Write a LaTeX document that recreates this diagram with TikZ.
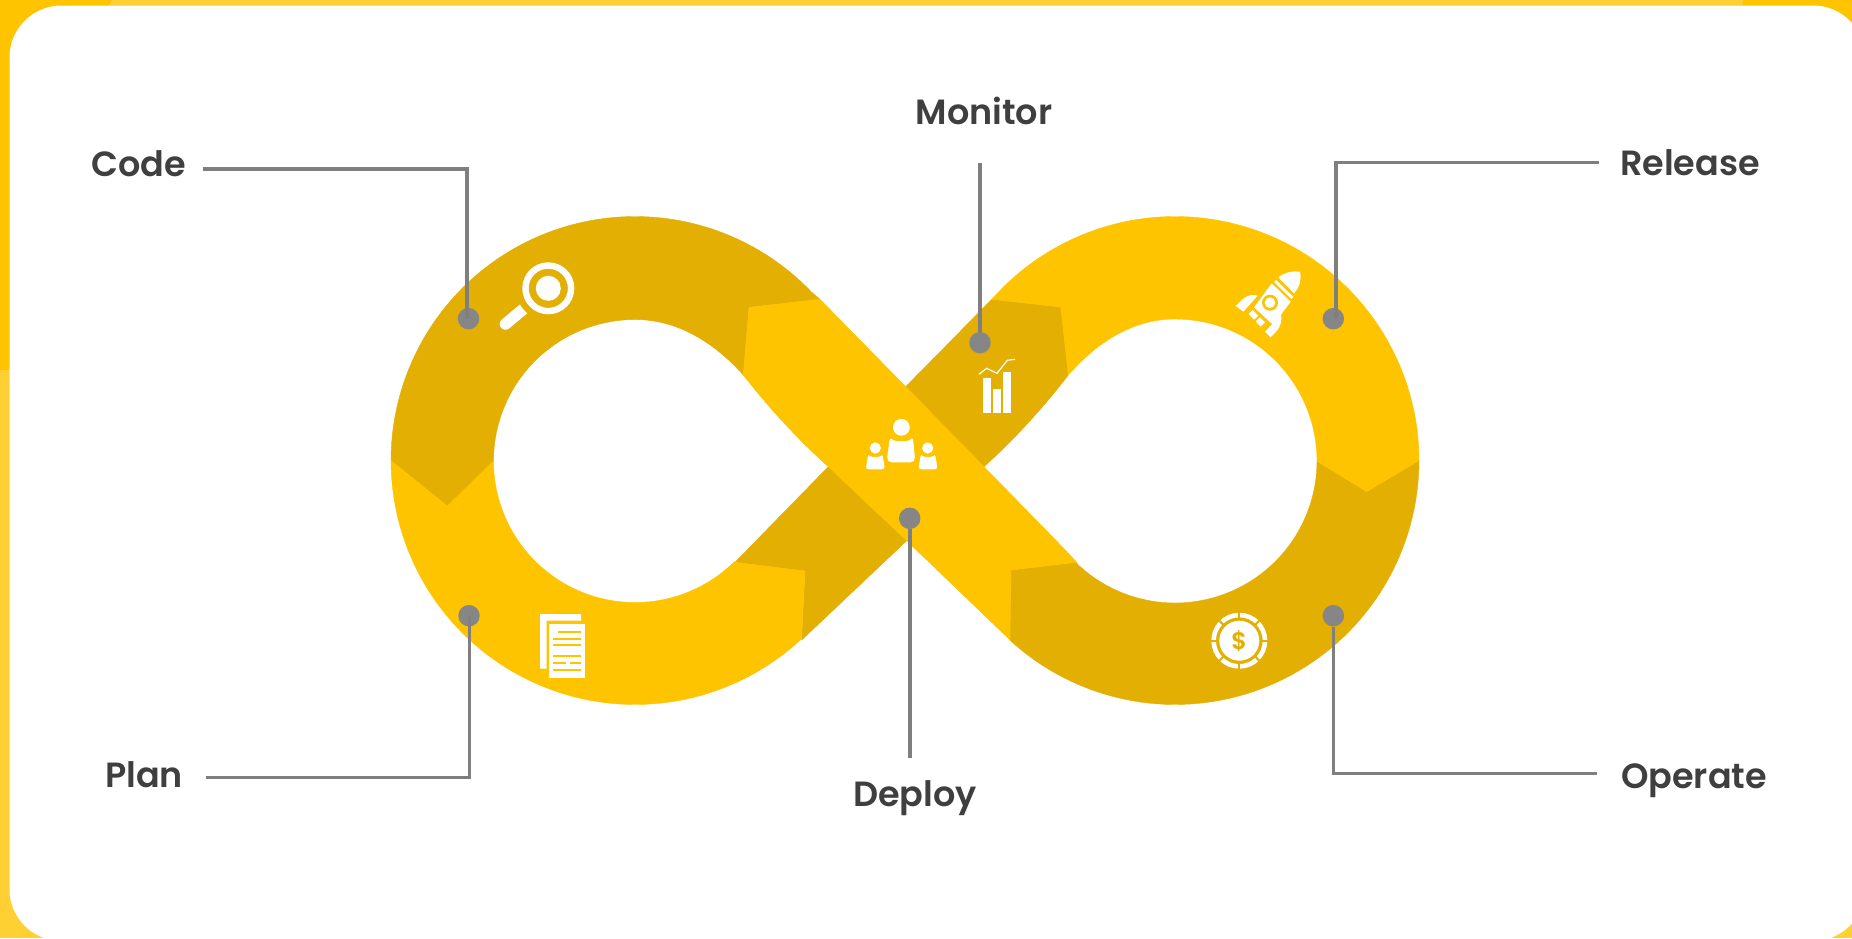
\documentclass[tikz,border=0pt]{standalone}
\usepackage{fontspec}
\setmainfont{Poppins}[UprightFont=* SemiBold,BoldFont=* Bold]
\definecolor{yel}{HTML}{FFC400}
\definecolor{lite}{HTML}{FFD033}
\definecolor{drk}{HTML}{E3AF03}
\definecolor{conn}{HTML}{7F7F7F}
\definecolor{dotc}{HTML}{868686}
\definecolor{txt}{HTML}{3F3F3F}
\tikzset{
  yseg/.style={fill=yel,draw=yel,line width=.4pt,line join=round},
  dseg/.style={fill=drk,draw=drk,line width=.4pt,line join=round},
  connector/.style={draw=conn,line width=3.6pt,line join=miter},
  dotnode/.style={circle,fill=dotc,inner sep=0pt,minimum size=21.5pt},
  lab/.style={text=txt,font=\fontsize{35}{38}\selectfont,inner sep=0pt,anchor=center},
  whiteshape/.style={fill=white,draw=none}
}
\begin{document}
\begin{tikzpicture}[x=1pt,y=-1pt]
\useasboundingbox (0,0) rectangle (1852,938);
% frame
\fill[lite] (0,0) rectangle (1852,938);
\fill[yel] (0,0) -- (112,0) -- (108,6) -- (108,367) -- (0,370) -- cycle;
\fill[yel] (1743,0) -- (1852,0) -- (1852,40) -- (1739,40) -- cycle;
\fill[white,rounded corners=52pt] (9.5,5.5) rectangle (1865,941);
% dark segments
\fill[dseg] plot[domain=180:316.5,samples=70] ({635+244*cos(\x)},{460.5+244*sin(\x)})
  -- (820,299.3) -- (749,307.3) -- (743.3,375)
  .. controls (712,340) and (675,319.5) .. (635,319.5)
  -- plot[domain=270:180,samples=50] ({635+141.5*cos(\x)},{461+141.5*sin(\x)})
  -- (447.3,506) -- cycle;
\fill[dseg] plot[domain=0:132.6,samples=70] ({1175+244*cos(\x)},{460.5+244*sin(\x)})
  -- (1011,570) -- (1076.7,562.3)
  -- plot[domain=134:0,samples=60] ({1175+142*cos(\x)},{461+142*sin(\x)})
  -- (1366.7,491.7) -- cycle;
\fill[dseg] (801.7,640) -- (805,571) -- (735,562.3) -- (828.3,466.7) -- (906.7,540.7) -- cycle;
\fill[dseg] (905.7,386.7) -- (991.7,299.3) -- (1060.7,307) -- (1068.3,375)
  .. controls (1047,403) and (1017,437) .. (984,466.7) -- cycle;
% yellow segments
\fill[yseg] plot[domain=180:47,samples=70] ({635+244*cos(\x)},{460.5+244*sin(\x)})
  -- (805,571) -- (735,562.3)
  -- plot[domain=45.3:180,samples=60] ({635+141.5*cos(\x)},{461+141.5*sin(\x)})
  -- (447.3,506) -- cycle;
\fill[yseg] (991.7,299.3) -- plot[domain=223.5:360,samples=70] ({1175+244*cos(\x)},{460.5+244*sin(\x)})
  -- (1366.7,491.7) -- (1316.7,461)
  -- plot[domain=0:-90,samples=50] ({1175+142*cos(\x)},{461+142*sin(\x)})
  .. controls (1135,319) and (1099,340) .. (1068.3,375)
  -- (1060.7,307) -- cycle;
\fill[yseg] (820,299.3) -- (749,307.3) -- (743.3,375)
  .. controls (765,403) and (795,437) .. (828.3,466.7)
  -- (906.7,540.7) -- (1010,640) -- (1011,570) -- (1076.7,562.3) -- (1066,550.7)
  -- (984,466.7) -- (905.7,386.7) -- cycle;
% icon: magnifier
\draw[white,line width=11.5pt,line cap=round] (505.5,324) -- (530,303.5);
\fill[drk] (548.3,288.3) circle[radius=32.5pt];
\draw[white,line width=6.4pt] (548.3,288.3) circle[radius=22.8pt];
\fill[white] (548.3,288.3) circle[radius=12.5pt];
% icon: rocket
\begin{scope}[shift={(1220,250)},x=.3333pt,y=-.3333pt]
  \fill[whiteshape] (175,82) .. controls (195,66) and (218,62) .. (240,65) .. controls (245,88) and (240,110) .. (222,130) -- cycle;
  \fill[whiteshape] (168,90) -- (220,141) -- (214,147) -- (162,96) -- cycle;
  \fill[whiteshape] (155,100) -- (212,155) -- (160,225) -- (102,172) -- cycle;
  \fill[yel] (150,158) circle[radius=8pt];
  \fill[white] (150,158) circle[radius=5.3pt];
  \fill[whiteshape] (47,168) -- (70,146) .. controls (85,134) and (100,133) .. (113,137) -- (70,185) -- cycle;
  \fill[whiteshape] (183,195) .. controls (187,212) and (180,232) .. (170,243) -- (152,262) -- (135,245) -- cycle;
  \fill[whiteshape] (85,192) -- (98,180) -- (115,197) -- (102,209) -- cycle;
  \fill[whiteshape] (107,214) -- (120,202) -- (135,217) -- (122,230) -- cycle;
\end{scope}
% icon: people
\begin{scope}[shift={(850,350)},x=.3333pt,y=-.3333pt]
  \fill[white] (154,232) circle[radius=8.4pt];
  \fill[white,rounded corners=5pt] (120,257) .. controls (132,275) and (176,275) .. (188,257) -- (196,337) -- (110,337) -- cycle;
  \fill[white] (76,294) circle[radius=5.6pt];
  \fill[white,rounded corners=3pt] (55,311) .. controls (63,322) and (89,322) .. (97,311) -- (105,358) -- (47,358) -- cycle;
  \fill[white] (233,294) circle[radius=5.6pt];
  \fill[white,rounded corners=3pt] (213,311) .. controls (221,322) and (247,322) .. (255,311) -- (263,358) -- (205,358) -- cycle;
\end{scope}
% icon: chart
\begin{scope}[shift={(740,200)},x=.3333pt,y=-.3333pt]
  \fill[white] (729,534) rectangle (753,639);
  \fill[white] (759,567) rectangle (783,639);
  \fill[white] (789,516) rectangle (813,639);
  \draw[white,line width=1.2pt] (717,523) -- (740,505) -- (771,520) -- (802,481) -- (825,478);
\end{scope}
% icon: plan pages
\begin{scope}[shift={(520,600)},x=.3333pt,y=-.3333pt]
  \fill[white] (60,42) -- (183,42) -- (183,62) -- (80,62) -- (80,206) -- (60,206) -- cycle;
  \fill[white] (87,72) rectangle (195,235);
  \fill[yel] (114,93) rectangle (183,99);
  \fill[yel] (99,113) rectangle (183,119);
  \fill[yel] (99,133) rectangle (183,139);
  \fill[yel] (99,166) rectangle (183,172);
  \fill[yel] (99,186) rectangle (137,192);
  \fill[yel] (149,186) rectangle (183,192);
  \fill[yel] (99,207) rectangle (183,213);
\end{scope}
% icon: chip
\fill[white] (1239.3,640.7) circle[radius=20pt];
\draw[white,line width=4.6pt] (1239.3,640.7) circle[radius=25.7pt];
\foreach \a in {0,45,...,315}{
  \draw[drk,line width=2pt] ({1239.3+22.5*cos(\a)},{640.7+22.5*sin(\a)}) -- ({1239.3+29.5*cos(\a)},{640.7+29.5*sin(\a)});
}
\node[text=drk,font=\fontsize{24}{24}\selectfont,inner sep=0pt] (dollar) at (1239.3,640.7) {\$};
% labels
\node[lab] (code) at (138.5,164) {Code};
\node[lab] (plan) at (144,775) {Plan};
\node[lab] (monitor) at (984,111) {Monitor};
\node[lab] (deploy) at (915,798) {Deploy};
\node[lab] (release) at (1690,163) {Release};
\node[lab] (operate) at (1694,781) {Operate};
% connector ends
\node[dotnode] (codedot) at (468.5,318.7) {};
\node[dotnode] (plandot) at (469,615.7) {};
\node[dotnode] (monitordot) at (980,342.7) {};
\node[dotnode] (deploydot) at (909.7,518.3) {};
\node[dotnode] (releasedot) at (1333.3,318.7) {};
\node[dotnode] (operatedot) at (1333.3,615.7) {};
\coordinate (codeend) at (203,169);
\coordinate (codeknee) at (466.7,169);
\coordinate (planend) at (205.5,777.5);
\coordinate (planknee) at (469.3,777.5);
\coordinate (monitorend) at (980,163);
\coordinate (deployend) at (909.7,758);
\coordinate (releaseend) at (1599,162.5);
\coordinate (releaseknee) at (1335.7,162.5);
\coordinate (operateend) at (1597,773.5);
\coordinate (operateknee) at (1333.3,773.5);
\draw[connector] (codeend) -- (codeknee) -- (codeknee |- codedot);
\draw[connector] (planend) -- (planknee) -- (planknee |- plandot);
\draw[connector] (monitorend) -- (monitordot);
\draw[connector] (deployend) -- (deploydot);
\draw[connector] (releaseend) -- (releaseknee) -- (releaseknee |- releasedot);
\draw[connector] (operateend) -- (operateknee) -- (operatedot);
\end{tikzpicture}
\end{document}
